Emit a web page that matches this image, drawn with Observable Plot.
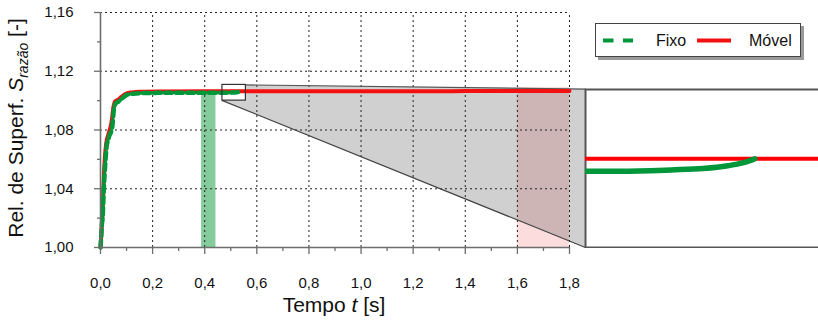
<!DOCTYPE html>
<html>
<head>
<meta charset="utf-8">
<script src="https://cdn.jsdelivr.net/npm/d3@7"></script>
<script src="https://cdn.jsdelivr.net/npm/@observablehq/plot@0.6"></script>
<style>
  html, body { margin: 0; padding: 0; background: #fff; overflow: hidden; }
  #chart { position: relative; width: 818px; height: 320px; overflow: hidden;
           font-family: "Liberation Sans", Arial, sans-serif; }
  #chart svg { position: absolute; left: 0; top: 0; }
</style>
</head>
<body>
<div id="chart"></div>
<script>
// Surface ratio vs time, fixed ("Fixo") and moving ("Móvel") cases
const seriesNames = ["Fixo", "Móvel"];
const seriesColors = ["#00963a", "#f21010"];

const fixoT = [0.000, 0.003, 0.005, 0.008, 0.013, 0.019, 0.023, 0.032, 0.045, 0.052, 0.058, 0.070, 0.083, 0.102, 0.125, 0.153, 0.218, 0.300, 0.400, 0.468, 0.482, 0.503, 0.516, 0.526, 0.532, 0.537];
const fixoS = [1.000, 1.008, 1.015, 1.020, 1.041, 1.059, 1.068, 1.075, 1.082, 1.095, 1.098, 1.0995, 1.1015, 1.1040, 1.1047, 1.1051, 1.1053, 1.1054, 1.1054, 1.1054, 1.1054, 1.1055, 1.1056, 1.1058, 1.1060, 1.1063];

const movelT = [0.000, 0.004, 0.008, 0.012, 0.017, 0.022, 0.030, 0.042, 0.050, 0.056, 0.066, 0.080, 0.098, 0.120, 0.150, 0.220, 0.400, 0.600, 1.000, 1.300, 1.400, 1.800];
const movelS = [1.000, 1.012, 1.025, 1.045, 1.062, 1.071, 1.077, 1.085, 1.096, 1.0995, 1.1005, 1.1025, 1.1048, 1.1056, 1.1060, 1.1062, 1.1063, 1.1063, 1.1063, 1.1063, 1.1065, 1.1065];

// Axis ticks
const xTicks = [0.0, 0.2, 0.4, 0.6, 0.8, 1.0, 1.2, 1.4, 1.6, 1.8];
const xMinor = [0.1, 0.3, 0.5, 0.7, 0.9, 1.1, 1.3, 1.5, 1.7];
const yTicks = [1.00, 1.04, 1.08, 1.12, 1.16];
const yMinor = [1.02, 1.06, 1.10, 1.14];

// Highlighted time windows
const greenBand = [0.388, 0.443];
const pinkBand = [1.6, 1.8];

// Zoom window and the magnified panel it connects to
const zoomT = [0.468, 0.558];
const zoomS = [1.1000, 1.1107];
const panelT = 1.861;             // left edge of the magnified panel (in t units)
const panelS = [1.000, 1.1078];   // bottom / top of the magnified panel (in S units)
const insetT = [0.468, 0.5695];
const insetS = [1.0999, 1.1113];

const fixo = fixoT.map((t, i) => ({t, s: fixoS[i]}));
const movel = movelT.map((t, i) => ({t, s: movelS[i]}));
const fmtX = d => d.toFixed(1).replace(".", ",");
const fmtY = d => d.toFixed(2).replace(".", ",");

const axisColor = "#6e6e6e";
const gridColor = "#222";
const font = "Liberation Sans, Arial, sans-serif";

const main = Plot.plot({
  width: 818, height: 320,
  marginLeft: 100, marginRight: 249, marginTop: 12, marginBottom: 73,
  x: {domain: [0, 1.8]},
  y: {domain: [1.00, 1.16]},
  style: {fontFamily: font, fontSize: "15px", color: "#111", background: "transparent", overflow: "visible"},
  marks: [
    Plot.rect([greenBand], {x1: d => d[0], x2: d => d[1], y1: 1.00, y2: 1.1052, fill: "#20a048", fillOpacity: 0.55}),
    Plot.rect([pinkBand], {x1: d => d[0], x2: d => d[1], y1: 1.00, y2: 1.109, fill: "#fcdcdc"}),
    // connector between zoom window and magnified panel
    Plot.areaY([{t: zoomT[0], lo: zoomS[0], hi: zoomS[1]}, {t: panelT, lo: panelS[0], hi: panelS[1]}],
      {x: "t", y1: "lo", y2: "hi", fill: "#333", fillOpacity: 0.23}),
    Plot.rect([0], {x1: zoomT[0], x2: zoomT[1], y1: zoomS[0], y2: zoomS[1], fill: "white"}),
    Plot.ruleX(xTicks.slice(1), {y1: 1.00, y2: 1.16, stroke: gridColor, strokeDasharray: "2,3"}),
    Plot.ruleY(yTicks.slice(1), {x1: 0, x2: 1.8, stroke: gridColor, strokeDasharray: "2,3"}),
    Plot.line([{t: zoomT[1], s: zoomS[1]}, {t: panelT, s: panelS[1]}], {x: "t", y: "s", stroke: "#555", strokeWidth: 1.2}),
    Plot.line([{t: zoomT[0], s: zoomS[0]}, {t: panelT, s: panelS[0]}], {x: "t", y: "s", stroke: "#444", strokeWidth: 1.2}),
    Plot.line(movel, {x: "t", y: "s", stroke: seriesColors[1], strokeWidth: 4, curve: "monotone-x"}),
    Plot.line(fixo, {x: "t", y: "s", stroke: seriesColors[0], strokeWidth: 4.5, strokeDasharray: "7,4", curve: "monotone-x"}),
    Plot.rect([0], {x1: zoomT[0], x2: zoomT[1], y1: zoomS[0], y2: zoomS[1], fill: "none", stroke: "#333", strokeWidth: 1.2}),
    Plot.axisX({ticks: xTicks, tickFormat: fmtX, tickSize: 7, tickPadding: 23, stroke: axisColor, strokeWidth: 1.3, label: null}),
    Plot.axisX({ticks: xMinor, tickSize: 4, text: null, stroke: axisColor, strokeWidth: 1.3, label: null}),
    Plot.axisY({ticks: yTicks, tickFormat: fmtY, tickSize: 6, tickPadding: 21, stroke: axisColor, strokeWidth: 1.3, label: null}),
    Plot.axisY({ticks: yMinor, tickSize: 3, text: null, stroke: axisColor, strokeWidth: 1.3, label: null}),
    Plot.ruleY([1.00], {x1: 0, x2: 1.8, stroke: axisColor, strokeWidth: 1.6}),
    Plot.ruleX([0], {y1: 1.00, y2: 1.16, stroke: axisColor, strokeWidth: 1.6})
  ]
});

const chart = document.getElementById("chart");
chart.appendChild(main);

// Axis titles with italic symbols and subscript
const svg = d3.select(main);
svg.append("text")
  .attr("x", 334).attr("y", 312).attr("text-anchor", "middle")
  .attr("font-family", font).attr("font-size", 21).attr("fill", "#111")
  .call(t => {
    t.append("tspan").text("Tempo ");
    t.append("tspan").attr("font-style", "italic").text("t");
    t.append("tspan").text(" [s]");
  });
svg.append("text")
  .attr("transform", "translate(23,128) rotate(-90)").attr("text-anchor", "middle")
  .attr("font-family", font).attr("font-size", 21).attr("fill", "#111")
  .call(t => {
    t.append("tspan").text("Rel. de Superf. ");
    t.append("tspan").attr("font-style", "italic").text("S");
    t.append("tspan").attr("font-style", "italic").attr("font-size", 14).attr("dy", 5).text("razão");
    t.append("tspan").attr("dy", -5).text(" [-]");
  });

// Legend
const lg = svg.append("g").attr("text-anchor", "start");
lg.append("rect").attr("x", 598).attr("y", 26).attr("width", 206).attr("height", 34).attr("fill", "#9a9a9a");
lg.append("rect").attr("x", 595.5).attr("y", 23.5).attr("width", 205).attr("height", 33).attr("fill", "white").attr("stroke", "#444");
lg.append("line").attr("x1", 603).attr("x2", 633).attr("y1", 40.5).attr("y2", 40.5)
  .attr("stroke", seriesColors[0]).attr("stroke-width", 4).attr("stroke-dasharray", "10.5,9.5");
lg.append("text").attr("x", 656).attr("y", 46).attr("font-family", font).attr("font-size", 16).attr("fill", "#111").text(seriesNames[0]);
lg.append("line").attr("x1", 697).attr("x2", 731).attr("y1", 40.5).attr("y2", 40.5)
  .attr("stroke", seriesColors[1]).attr("stroke-width", 4);
lg.append("text").attr("x", 749).attr("y", 46).attr("font-family", font).attr("font-size", 16).attr("fill", "#111").text(seriesNames[1]);

// Magnified panel, placed at the connector's end
const sx = main.scale("x"), sy = main.scale("y");
const pLeft = sx.apply(panelT), pTop = sy.apply(panelS[1]), pBottom = sy.apply(panelS[0]);
const inset = Plot.plot({
  width: 250, height: Math.round(pBottom - pTop) + 2,
  marginTop: 1, marginBottom: 1, marginLeft: 1, marginRight: 0,
  x: {domain: insetT, axis: null},
  y: {domain: insetS, axis: null},
  style: {background: "transparent"},
  marks: [
    Plot.frame({fill: "white", stroke: "#555", strokeWidth: 2}),
    Plot.line(movel, {x: "t", y: "s", stroke: "#ff0000", strokeWidth: 4, curve: "monotone-x", clip: true}),
    Plot.line(fixo, {x: "t", y: "s", stroke: seriesColors[0], strokeWidth: 5.5, strokeLinecap: "round", curve: "monotone-x", clip: true})
  ]
});
inset.style.left = (pLeft - 1) + "px";
inset.style.top = (pTop - 1) + "px";
chart.appendChild(inset);
</script>
</body>
</html>
